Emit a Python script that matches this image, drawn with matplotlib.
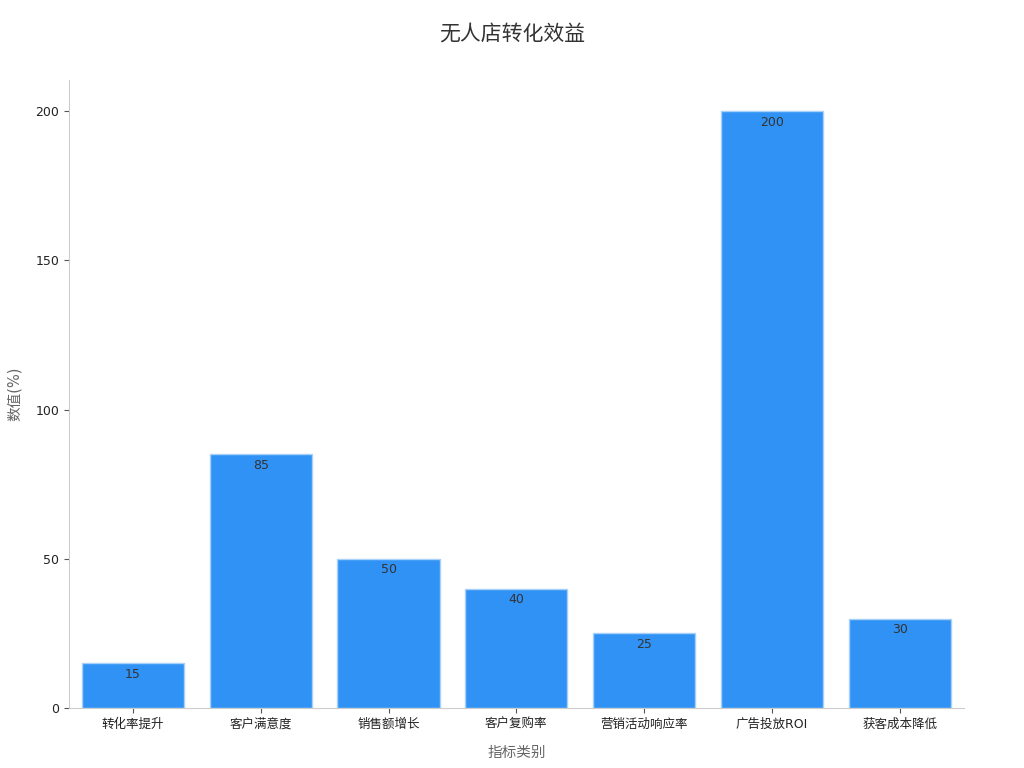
import numpy as np
import matplotlib
matplotlib.use('Agg')
import matplotlib.pyplot as plt

plt.rcParams['font.family'] = ['DejaVu Sans', 'Noto Sans CJK SC']

#==================================================================
categories = ['转化率提升', '客户满意度', '销售额增长', '客户复购率', '营销活动响应率', '广告投放ROI', '获客成本降低']
values = [15, 85, 50, 40, 25, 200, 30]
yticks = [0, 50, 100, 150, 200]

#==================================================================
fig = plt.figure(figsize=(10.24, 7.68), dpi=100)
ax = fig.add_axes([0.0674, 0.078, 0.8736, 0.818])

x = np.arange(len(categories))
bars = ax.bar(x, values, width=0.8, color='#3092f5', edgecolor='#a9d0f8', linewidth=1)
for b, v in zip(bars, values):
    ax.text(b.get_x() + b.get_width() / 2, v - 1.5, str(v), ha='center', va='top',
            fontsize=9, color='#333333')

ax.set_xticks(x)
ax.set_xticklabels(categories, fontsize=9, color='#222222')
ax.set_yticks(yticks)
ax.tick_params(axis='y', labelsize=9, labelcolor='#222222', color='#555555')
ax.tick_params(axis='x', color='#555555')
ax.set_xlim(-0.5, 6.5)
ax.set_ylim(0, 210.5)

for s in ['top', 'right']:
    ax.spines[s].set_visible(False)
for s in ['left', 'bottom']:
    ax.spines[s].set_color('#cccccc')

ax.set_xlabel('指标类别', fontsize=10.5, color='#666666', labelpad=10)
ax.set_ylabel('数值(%)', fontsize=10.5, color='#666666', labelpad=10)
fig.suptitle('无人店转化效益', fontsize=15, color='#333333', y=0.97)

fig.savefig('out.png', dpi=100)
